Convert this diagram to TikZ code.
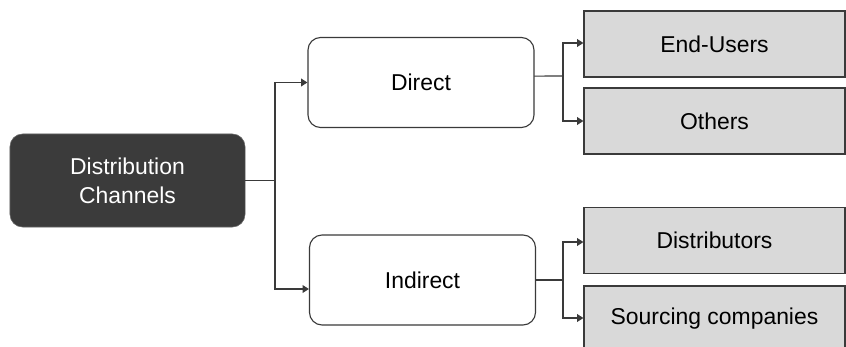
\documentclass[tikz,border=0pt]{standalone}
\usepackage{fontspec}
\setmainfont{Liberation Sans}
\usetikzlibrary{arrows.meta}
\definecolor{darkbox}{HTML}{3B3B3B}
\definecolor{linegray}{HTML}{3A3A3A}
\definecolor{leafgray}{HTML}{D9D9D9}

\begin{document}
\begin{tikzpicture}[x=0.025cm,y=-0.025cm,line cap=round,
				font=\fontsize{16.3pt}{20.6pt}\selectfont,
				arr/.style={-{Triangle[length=4.5pt,width=5.5pt]}},
				link/.style={draw=linegray,line width=0.8pt},
				rootbox/.style={rectangle,rounded corners=9pt,fill=darkbox,draw=darkbox!80,
					text=white,align=center,minimum width=5.875cm,minimum height=2.325cm},
				kindbox/.style={rectangle,rounded corners=9pt,fill=white,draw=linegray,
					line width=0.8pt,minimum width=5.65cm,minimum height=2.25cm},
				leaf/.style={rectangle,fill=leafgray,draw=linegray,line width=0.8pt,
					minimum width=6.525cm,minimum height=1.65cm}]
				\useasboundingbox (0,0) rectangle (846,347);
				\clip (0,0) rectangle (846,347);
				\node[rootbox] (root) at (127.5,180.5) {Distribution\\Channels};
				\node[kindbox] (direct) at (421,82.5) {Direct};
				\node[kindbox] (indirect) at (422.5,280) {Indirect};
				%\node[leaf] at (714.5,0) {};
				\foreach \Y/\N/\T in {44/users/End-Users,121/others/Others,
					240.5/distrib/Distributors,319/sourcing/Sourcing companies}
				{\node[leaf] (\N) at (714.5,\Y) {\T};}
				
				\draw[link] (root.east) -- (275,180.5) coordinate (t0);
				\draw[link,arr] (t0) |- (direct.west);
				\draw[link,arr] (t0) |- ([yshift=-0.225cm]indirect.west);
				
				\draw[link] ([yshift=0.16cm]direct.east) -- (563,76) coordinate (t1);
				\draw[link,arr] (t1) |- ([yshift=0.025cm]users.west);
				\draw[link,arr] (t1) |- (others.west);
				
				\draw[link] (indirect.east) -- (563,280) coordinate (t2);
				\draw[link,arr] (t2) |- ([yshift=-0.0375cm]distrib.west);
				\draw[link,arr] (t2) |- ([yshift=0.025cm]sourcing.west);
			\end{tikzpicture}
\end{document}
